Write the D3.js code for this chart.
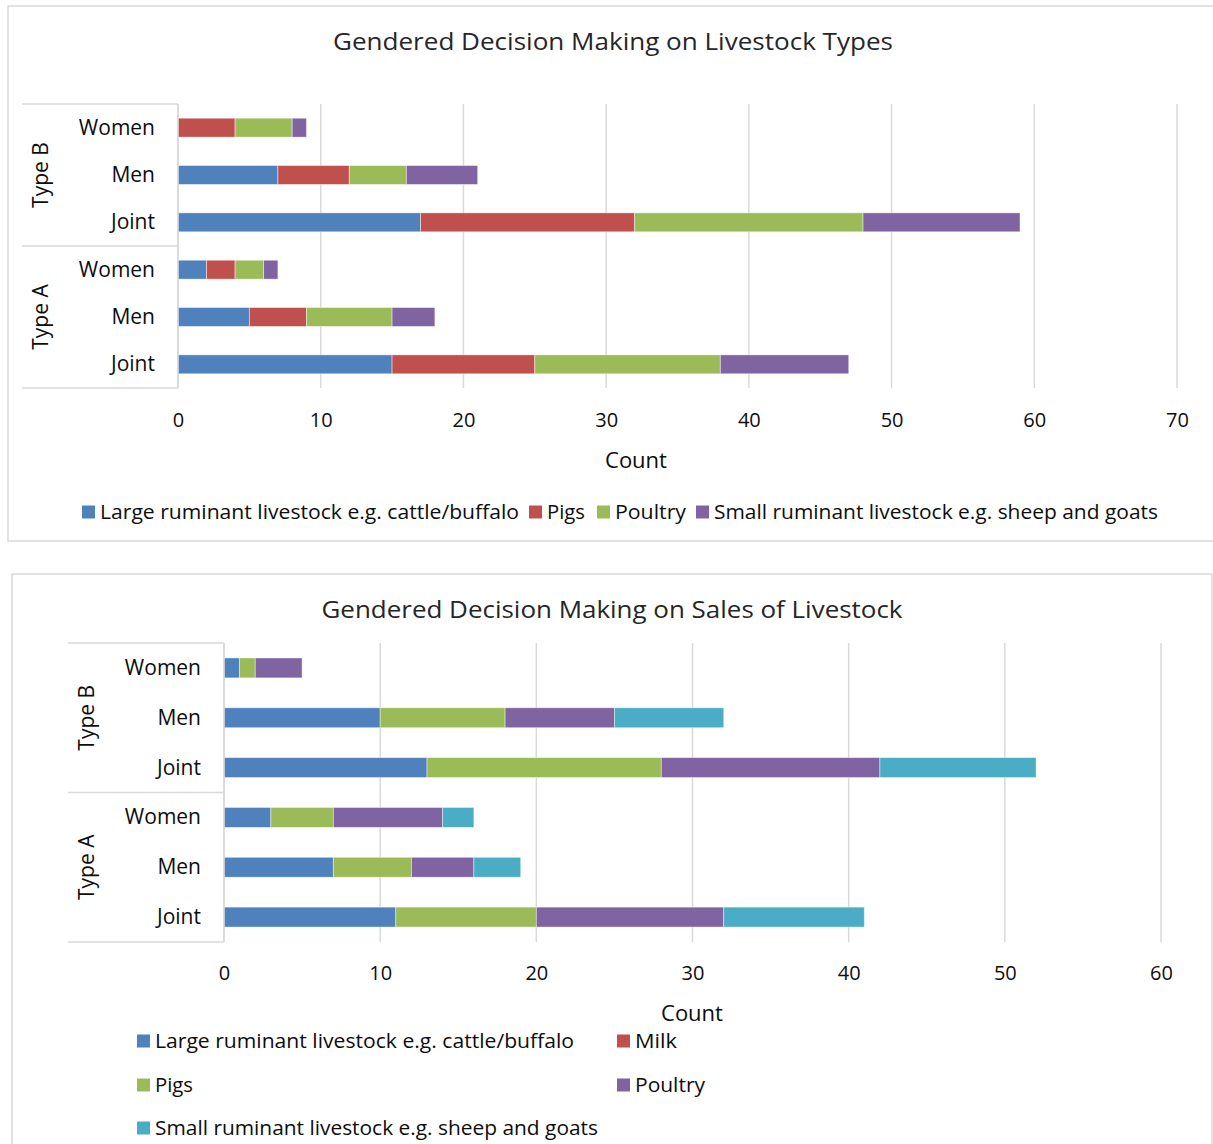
<!DOCTYPE html>
<html>
<head>
<meta charset="utf-8">
<title>Gendered Decision Making on Livestock</title>
<script src="https://cdn.jsdelivr.net/npm/d3@7"></script>
<style>
  html, body { margin: 0; padding: 0; background: #ffffff; }
  svg { display: block; }
  .lbl { font-family: "Open Sans", "Noto Sans", sans-serif; fill: #0d0d0d; }
  .ttl { font-family: "Open Sans", Lato, sans-serif; fill: #262626; }
</style>
</head>
<body>
<svg id="chart" width="1213" height="1144"></svg>
<script>
// ---- categories (top to bottom) ----
const groups = ["Type B", "Type A"];
const genders = ["Women", "Men", "Joint"];

// ---- chart 1: decision making on livestock types ----
const typeSeries = [
  "Large ruminant livestock e.g. cattle/buffalo",
  "Pigs",
  "Poultry",
  "Small ruminant livestock e.g. sheep and goats"
];
// rows: Type B Women, Men, Joint, Type A Women, Men, Joint
const typeLarge   = [0, 7, 17, 2, 5, 15];
const typePigs    = [4, 5, 15, 2, 4, 10];
const typePoultry = [4, 4, 16, 2, 6, 13];
const typeSmall   = [1, 5, 11, 1, 3, 9];
const typeTicks   = [0, 10, 20, 30, 40, 50, 60, 70];

// ---- chart 2: decision making on sales of livestock ----
const salesSeries = [
  "Large ruminant livestock e.g. cattle/buffalo",
  "Milk",
  "Pigs",
  "Poultry",
  "Small ruminant livestock e.g. sheep and goats"
];
const salesLarge   = [1, 10, 13, 3, 7, 11];
const salesMilk    = [0, 0, 0, 0, 0, 0];
const salesPigs    = [1, 8, 15, 4, 5, 9];
const salesPoultry = [3, 7, 14, 7, 4, 12];
const salesSmall   = [0, 7, 10, 2, 3, 9];
const salesTicks   = [0, 10, 20, 30, 40, 50, 60];

const C = { blue: "#4F81BD", red: "#C0504D", green: "#9BBB59", purple: "#8064A2", teal: "#4BACC6" };
const GRID = "#d9d9d9";

const svg = d3.select("#chart");

function buildRows(values) {
  const rows = [];
  groups.forEach((g, gi) => genders.forEach((s, si) => {
    const i = gi * genders.length + si;
    const r = { key: g + "|" + s, group: g, gender: s };
    values.forEach((v, k) => { r["s" + k] = v[i]; });
    rows.push(r);
  }));
  return rows;
}

function drawChart(cfg) {
  const g = svg.append("g");

  // outer frame
  g.append("rect")
    .attr("x", cfg.frame[0]).attr("y", cfg.frame[1])
    .attr("width", cfg.frame[2]).attr("height", cfg.frame[3])
    .attr("fill", "#fff").attr("stroke", GRID).attr("stroke-width", 1.5);

  // title
  g.append("text").attr("class", "ttl")
    .attr("x", cfg.titleX).attr("y", cfg.titleY)
    .attr("text-anchor", "middle").attr("dominant-baseline", "central")
    .attr("font-size", 23.5)
    .attr("textLength", cfg.titleW).attr("lengthAdjust", "spacingAndGlyphs")
    .text(cfg.title);

  const rows = buildRows(cfg.values);
  const keys = cfg.values.map((_, k) => "s" + k);

  const x = d3.scaleLinear().domain([0, cfg.max]).range([cfg.plot.x0, cfg.plot.x1]);
  const y = d3.scaleBand().domain(rows.map(r => r.key))
    .range([cfg.plot.y0, cfg.plot.y1]).paddingInner(0.6).paddingOuter(0.3);

  // vertical gridlines
  g.append("g").selectAll("line").data(cfg.ticks).join("line")
    .attr("x1", d => x(d)).attr("x2", d => x(d))
    .attr("y1", cfg.plot.y0).attr("y2", cfg.plot.y1)
    .attr("stroke", GRID).attr("stroke-width", 1.5);

  // stacked bars
  const stack = d3.stack().keys(keys)(rows);
  g.append("g").selectAll("g").data(stack).join("g")
    .attr("fill", (d, i) => cfg.colors[i])
    .selectAll("rect").data(d => d).join("rect")
      .attr("x", d => x(d[0]))
      .attr("width", d => x(d[1]) - x(d[0]))
      .attr("y", d => y(d.data.key))
      .attr("height", y.bandwidth())
      .attr("stroke", "rgba(255,255,255,0.55)")
      .attr("stroke-width", d => (d[1] - d[0]) > 0 ? 0.8 : 0);

  // x axis tick labels
  const xAxis = d3.axisBottom(x).tickValues(cfg.ticks).tickSize(0).tickPadding(0);
  const ax = g.append("g").attr("transform", `translate(0,${cfg.tickY})`).call(xAxis);
  ax.select(".domain").remove();
  ax.selectAll("text").attr("class", "lbl")
    .attr("font-size", 20).attr("dy", null).attr("y", 0)
    .attr("dominant-baseline", "central").attr("fill", "#0d0d0d");

  // x axis title
  g.append("text").attr("class", "lbl")
    .attr("x", cfg.countX).attr("y", cfg.countY)
    .attr("text-anchor", "middle").attr("dominant-baseline", "central")
    .attr("font-size", 22).text("Count");

  // multi-level category axis: inner labels
  g.append("g").selectAll("text").data(rows).join("text").attr("class", "lbl")
    .attr("x", cfg.plot.x0 - 23)
    .attr("y", d => y(d.key) + y.bandwidth() / 2 - 1)
    .attr("text-anchor", "end").attr("dominant-baseline", "central")
    .attr("font-size", 21)
    .text(d => d.gender);

  // group boxes and rotated group labels
  const step = y.step();
  groups.forEach((grp, gi) => {
    const top = cfg.plot.y0 + gi * genders.length * step;
    const bot = top + genders.length * step;
    g.append("line").attr("x1", cfg.boxX).attr("x2", cfg.plot.x0)
      .attr("y1", top).attr("y2", top).attr("stroke", GRID).attr("stroke-width", 1.5);
    if (gi === groups.length - 1) {
      g.append("line").attr("x1", cfg.boxX).attr("x2", cfg.plot.x0)
        .attr("y1", bot).attr("y2", bot).attr("stroke", GRID).attr("stroke-width", 1.5);
    }
    g.append("text").attr("class", "lbl")
      .attr("transform", `translate(${cfg.groupX},${(top + bot) / 2}) rotate(-90)`)
      .attr("text-anchor", "middle").attr("dominant-baseline", "central")
      .attr("font-size", 21).text(grp);
  });
  g.append("line").attr("x1", cfg.plot.x0).attr("x2", cfg.plot.x0)
    .attr("y1", cfg.plot.y0).attr("y2", cfg.plot.y1)
    .attr("stroke", GRID).attr("stroke-width", 1.5);

  // legend
  const lg = g.append("g");
  cfg.legend.forEach((item, i) => {
    const it = lg.append("g").attr("transform", `translate(${item.x},${item.y})`);
    it.append("rect").attr("x", 0).attr("y", -6.5).attr("width", 13).attr("height", 13)
      .attr("fill", cfg.colors[i]);
    it.append("text").attr("class", "lbl")
      .attr("x", 18).attr("y", -1).attr("dominant-baseline", "central")
      .attr("font-size", 20)
      .attr("textLength", item.w).attr("lengthAdjust", "spacingAndGlyphs")
      .text(cfg.series[i]);
  });
}

drawChart({
  frame: [8, 6, 1210, 535],
  title: "Gendered Decision Making on Livestock Types",
  titleX: 613, titleY: 41, titleW: 560,
  values: [typeLarge, typePigs, typePoultry, typeSmall],
  series: typeSeries,
  colors: [C.blue, C.red, C.green, C.purple],
  max: 70, ticks: typeTicks,
  plot: { x0: 178, x1: 1177, y0: 104, y1: 388 },
  boxX: 22, groupX: 40,
  tickY: 419, countX: 636, countY: 459,
  legend: [
    { x: 82, y: 512, w: 419 },
    { x: 529, y: 512, w: 38 },
    { x: 597, y: 512, w: 71 },
    { x: 696, y: 512, w: 444 }
  ]
});

drawChart({
  frame: [12, 574, 1200, 580],
  title: "Gendered Decision Making on Sales of Livestock",
  titleX: 612, titleY: 609, titleW: 581,
  values: [salesLarge, salesMilk, salesPigs, salesPoultry, salesSmall],
  series: salesSeries,
  colors: [C.blue, C.red, C.green, C.purple, C.teal],
  max: 60, ticks: salesTicks,
  plot: { x0: 224, x1: 1161, y0: 643, y1: 942 },
  boxX: 68, groupX: 86,
  tickY: 972, countX: 692, countY: 1012,
  legend: [
    { x: 137, y: 1041, w: 419 },
    { x: 617, y: 1041, w: 42 },
    { x: 137, y: 1085, w: 38 },
    { x: 617, y: 1085, w: 70 },
    { x: 137, y: 1128, w: 443 }
  ]
});
</script>
</body>
</html>
